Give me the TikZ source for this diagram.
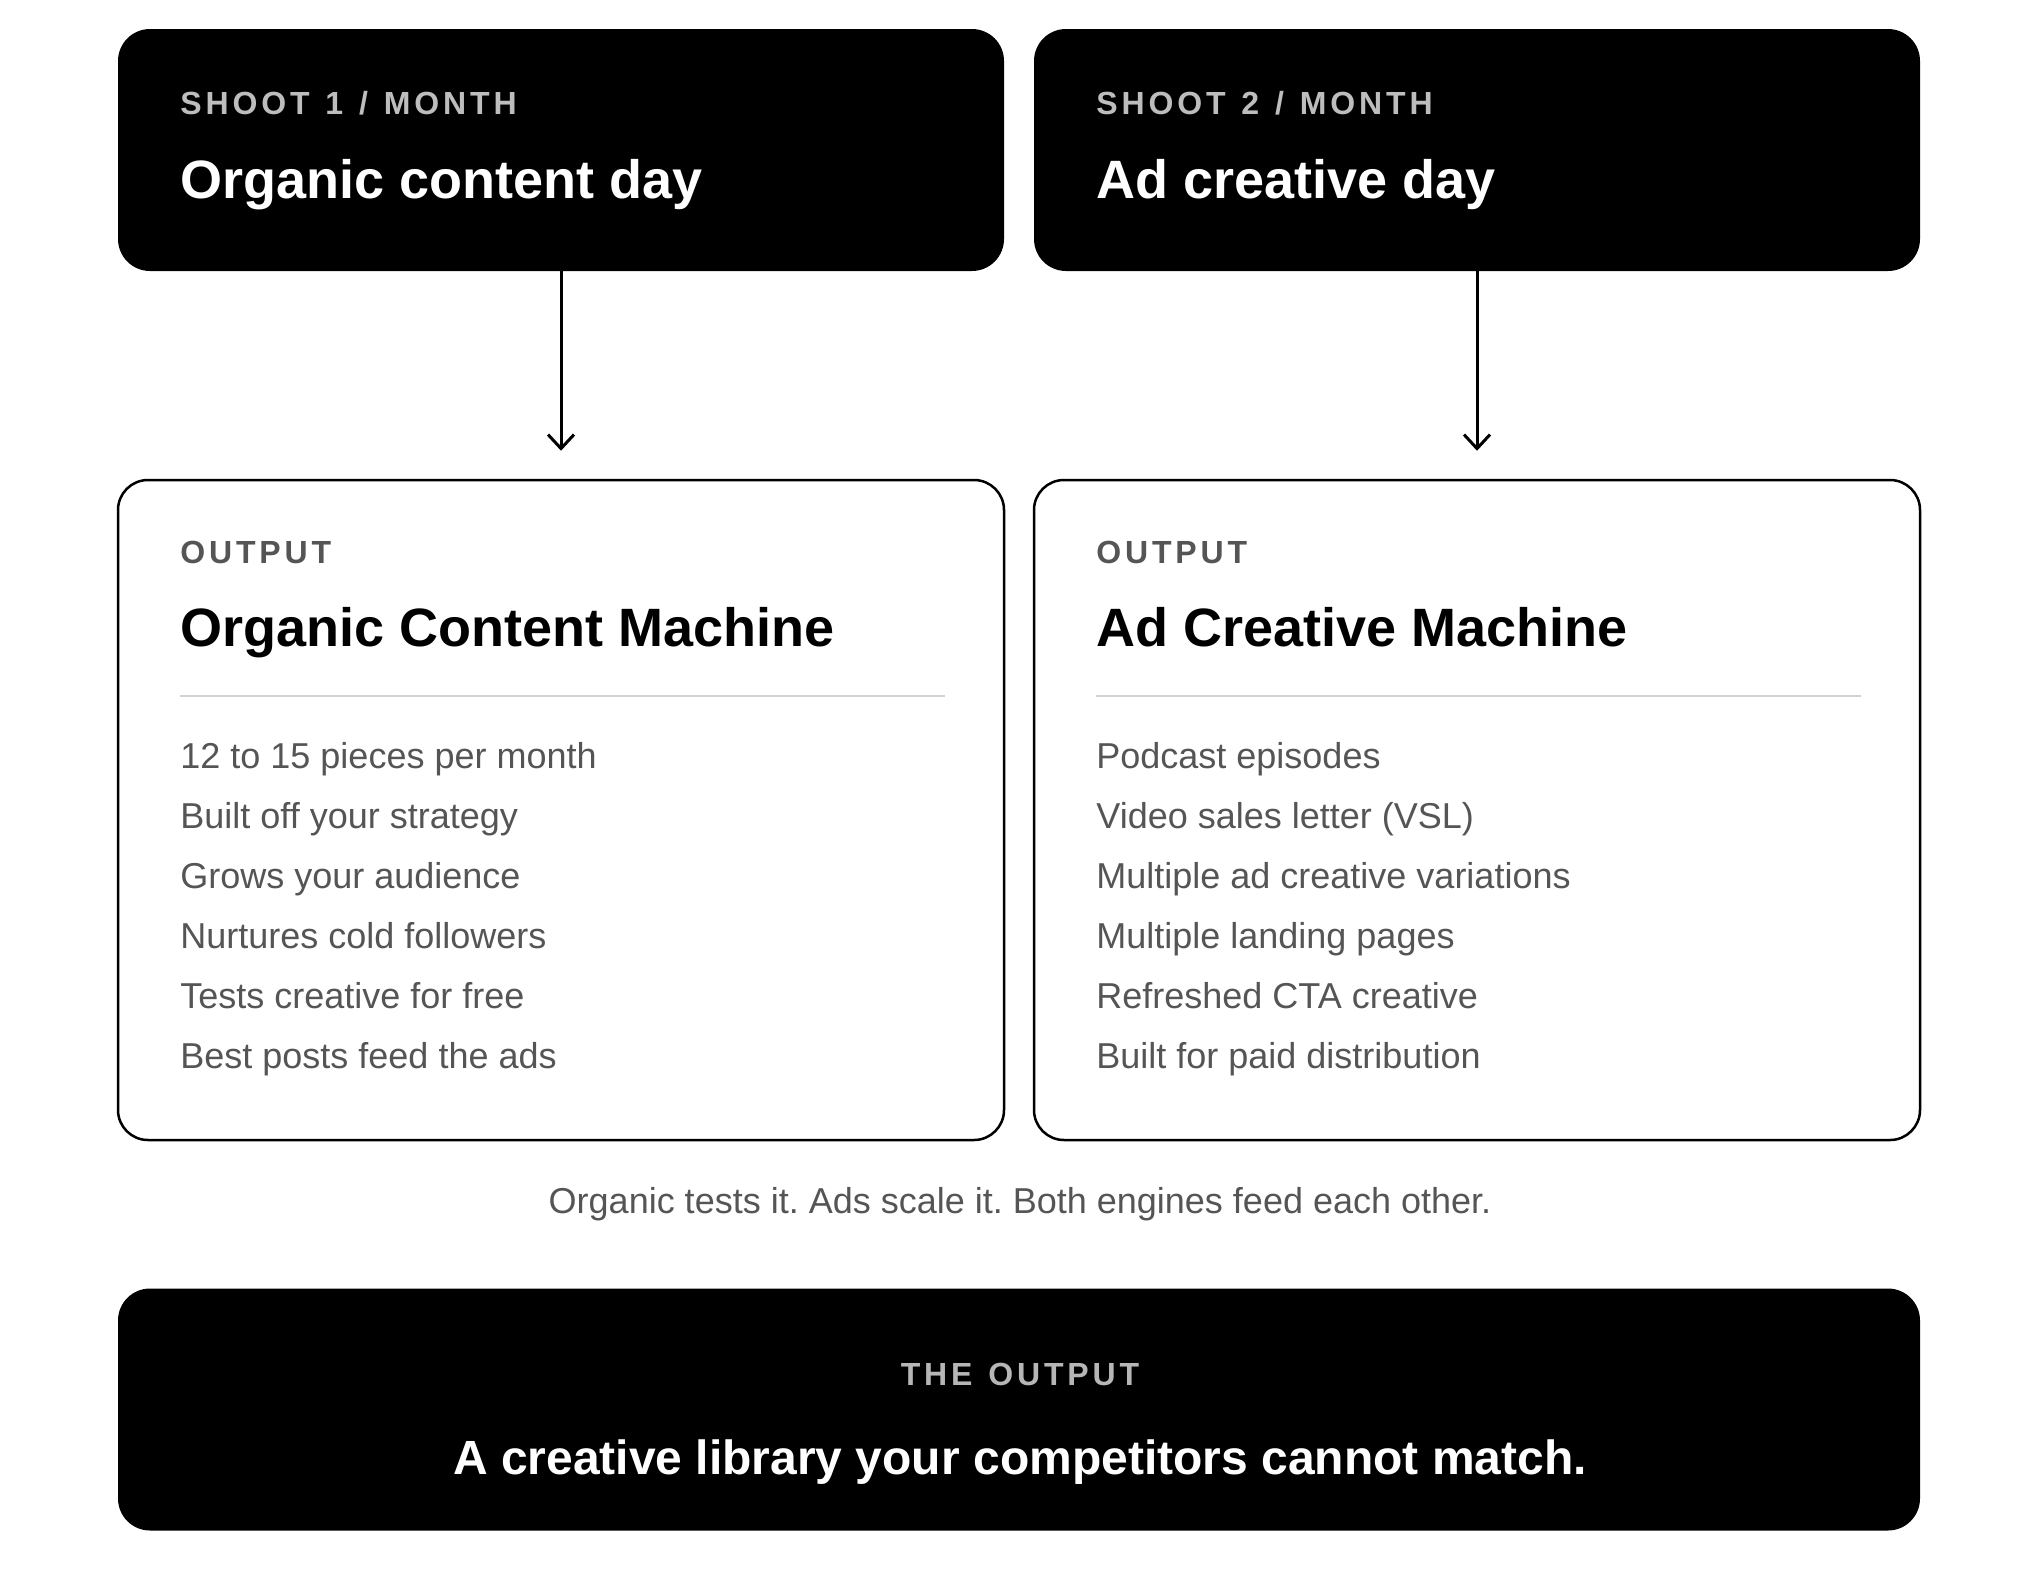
\documentclass[tikz,border=0pt]{standalone}
\usepackage{fontspec}
\setmainfont{Liberation Sans}
\newfontfamily\capsfont[LetterSpace=12,WordSpace=1.25]{Liberation Sans}
\usetikzlibrary{arrows.meta,positioning}
\definecolor{inkgray}{HTML}{555555}
\definecolor{kickgray}{HTML}{BDBDBD}
\definecolor{rulegray}{HTML}{D2D2D2}
\frenchspacing

\begin{document}
\begin{tikzpicture}[x=0.5pt, y=-0.5pt,
    darkbox/.style={fill=black, rounded corners=16pt, minimum width=443pt, minimum height=121pt, inner sep=0pt},
    outbox/.style={draw=black, line width=1.25pt, fill=white, rounded corners=15pt, minimum width=443pt, minimum height=330pt, inner sep=0pt},
    kicker/.style={anchor=base west, inner sep=0pt, font=\capsfont\bfseries\fontsize{16}{19}\selectfont},
    headline/.style={anchor=base west, inner sep=0pt, font=\bfseries\fontsize{27}{32}\selectfont},
    item/.style={anchor=base west, inner sep=0pt, text=inkgray, font=\fontsize{18}{22}\selectfont},
    sep/.style={draw=rulegray, line width=1pt},
    arr/.style={-{Straight Barb[length=7pt,width=13pt]}, line width=1.5pt, shorten >=14pt}
]
\useasboundingbox (0,0) rectangle (2040,1590);

% shoot days
\node[darkbox] (shoot1) at (561,150) {};
\node[darkbox] (shoot2) at (1477,150) {};
\node[kicker, text=kickgray] (k1) at (180,114) {SHOOT 1 / MONTH};
\node[headline, text=white] (h1) at (180,198) {Organic content day};
\node[kicker, text=kickgray] (k2) at (1096,114) {SHOOT 2 / MONTH};
\node[headline, text=white] (h2) at (1096,198) {Ad creative day};

% machines
\node[outbox] (mach1) at (561,810) {};
\node[outbox] (mach2) at (1477,810) {};
\draw[arr] (shoot1) -- (mach1);
\draw[arr] (shoot2) -- (mach2);

\node[kicker, text=inkgray] (o1) at (180,563) {OUTPUT};
\node[headline] (m1) at (180,646) {Organic Content Machine};
\draw[sep] (180,696) -- (945,696);
\node[kicker, text=inkgray] (o2) at (1096,563) {OUTPUT};
\node[headline] (m2) at (1096,646) {Ad Creative Machine};
\draw[sep] (1096,696) -- (1861,696);

\foreach \txt [count=\i from 0] in {12 to 15 pieces per month, Built off your strategy, Grows your audience, Nurtures cold followers, Tests creative for free, Best posts feed the ads}
  \node[item] (orgitem\i) at (180,768+60*\i) {\txt};
\foreach \txt [count=\i from 0] in {Podcast episodes, Video sales letter (VSL), Multiple ad creative variations, Multiple landing pages, Refreshed CTA creative, Built for paid distribution}
  \node[item] (aditem\i) at (1096,768+60*\i) {\txt};

\node[anchor=base, inner sep=0pt, text=inkgray, font=\fontsize{18}{22}\selectfont] (caption) at (1020,1213) {Organic tests it. Ads scale it. Both engines feed each other.};

% the output
\node[darkbox, minimum width=901pt] (library) at (1019,1409.5) {};
\node[kicker, anchor=base, text=kickgray!110] (k3) at (1020,1385) {THE OUTPUT};
\node[headline, anchor=base, text=white, font=\bfseries\fontsize{24}{29}\selectfont] (h3) at (1020,1474) {A creative library your competitors cannot match.};
\end{tikzpicture}
\end{document}
